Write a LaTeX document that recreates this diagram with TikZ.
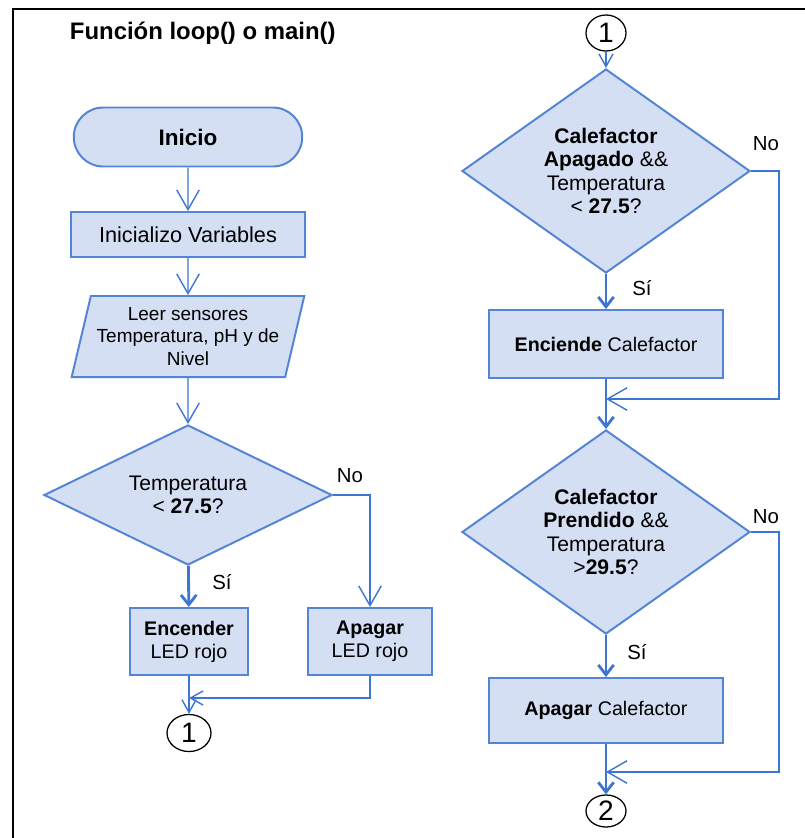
\documentclass[tikz,border=0pt]{standalone}
\usepackage{fontspec}
\setmainfont{Liberation Sans}
\usetikzlibrary{shapes.geometric,shapes.misc,arrows.meta}
\definecolor{boxfill}{RGB}{212,223,243}
\definecolor{boxline}{RGB}{84,132,212}
\definecolor{flowline}{RGB}{60,118,210}
\tikzset{
  base/.style={draw=boxline,fill=boxfill,line width=1.4pt,align=center,inner sep=2pt,font=\fontsize{15}{16.8}\selectfont},
  terminal/.style={base,rounded rectangle,font=\fontsize{16}{19}\selectfont\bfseries},
  process/.style={base,rectangle,font=\fontsize{14}{16.5}\selectfont},
  io/.style={base,trapezium,trapezium left angle=73,trapezium right angle=107,trapezium stretches=true,inner sep=0pt,font=\fontsize{13.5}{16.2}\selectfont},
  decision/.style={base,diamond,inner sep=0pt},
  connector/.style={draw=black,fill=white,ellipse,line width=0.9pt,inner sep=0pt,font=\fontsize{20}{20}\selectfont},
  lbl/.style={font=\fontsize{14.5}{16.5}\selectfont,inner sep=1pt},
  flow/.style={draw=flowline,line width=1pt,-{Straight Barb[length=14pt,width=16pt]}},
  small/.style={draw=flowline,line width=1pt,-{Straight Barb[length=9pt,width=10pt]}},
  yes/.style={draw=flowline,line width=2pt,-{Straight Barb[length=7pt,width=11pt]}}
}
\begin{document}
\begin{tikzpicture}[x=0.025cm,y=-0.025cm]
    \useasboundingbox (0,0) rectangle (805,838);
    %% frame and title
    \draw[line width=1.6pt] (13,838) -- (13,9) -- (805,9);
    \node[anchor=west,font=\fontsize{17}{20}\selectfont\bfseries] (title) at (65,33) {Función loop() o main()};
    %% left column
    \node[terminal,minimum width=5.85cm,minimum height=1.475cm] (inicio) at (188,137) {Inicio};
    \node[process,minimum width=5.825cm,minimum height=1.125cm,font=\fontsize{15.4}{17}\selectfont] (init) at (188,234.5) {Inicializo Variables};
    \node[io,minimum width=5.825cm,minimum height=2.025cm] (leer) at (188,336.5) {Leer sensores\\Temperatura, pH y de\\Nivel};
    \node[decision,aspect=2,minimum width=7.2cm,minimum height=3.5cm] (temp) at (188,495) {Temperatura\\< \textbf{27.5}?};
    \node[process,minimum width=2.95cm,minimum height=1.675cm] (encender) at (189,641.5) {\textbf{Encender}\\LED rojo};
    \node[process,minimum width=3.1cm,minimum height=1.675cm] (apagar) at (370,641.5) {\textbf{Apagar}\\LED rojo};
    \node[connector,minimum width=1.1cm,minimum height=0.925cm] (outa) at (189,733) {1};
    \coordinate (joina) at (189,698);
    \node[lbl] (noa) at (350,476) {No};
    \node[lbl] (sia) at (222,582) {Sí};
    \draw[flow] (inicio) -- (init);
    \draw[flow] (init) -- (leer);
    \draw[flow] (leer.south) -- (temp.north);
    \draw[yes] (temp) -- (encender);
    \draw[flow] (temp.east) -| (apagar.north);
    \draw[small] (encender) -- (outa);
    \draw[small] (apagar.south) |- (joina);
    %% right column
    \node[connector,minimum width=1.0cm,minimum height=0.9cm] (ina) at (606,33) {1};
    \node[decision,aspect=1.4,minimum width=7.2cm,minimum height=5.1cm] (apagado) at (606,171) {\textbf{Calefactor}\\\textbf{Apagado} \&\&\\Temperatura\\< \textbf{27.5}?};
    \node[process,minimum width=5.825cm,minimum height=1.7cm] (enciende) at (606,344) {\textbf{Enciende} Calefactor};
    \node[decision,aspect=1.4,minimum width=7.2cm,minimum height=5.1cm] (prendido) at (606,532) {\textbf{Calefactor}\\\textbf{Prendido} \&\&\\Temperatura\\>\textbf{29.5}?};
    \node[process,minimum width=5.825cm,minimum height=1.625cm] (apagarcal) at (606,710.5) {\textbf{Apagar} Calefactor};
    \node[connector,minimum width=1.0cm,minimum height=0.8cm] (outb) at (606,811) {2};
    \coordinate (turnb) at (779,399);
    \coordinate (joinb) at (606,399);
    \coordinate (turnc) at (779,772);
    \coordinate (joinc) at (606,772);
    \node[lbl] (nob) at (766,144) {No};
    \node[lbl] (sib) at (642,288) {Sí};
    \node[lbl] (noc) at (766,517) {No};
    \node[lbl] (sic) at (637,652) {Sí};
    \draw[small] (ina) -- (apagado);
    \draw[yes] (apagado) -- (enciende);
    \draw[yes] (enciende) -- (prendido);
    \draw[yes] (prendido) -- (apagarcal);
    \draw[yes] (apagarcal) -- (outb);
    \draw[flow] (apagado.east) -| (turnb) -- (joinb);
    \draw[flow] (prendido.east) -| (turnc) -- (joinc);
\end{tikzpicture}
\end{document}
